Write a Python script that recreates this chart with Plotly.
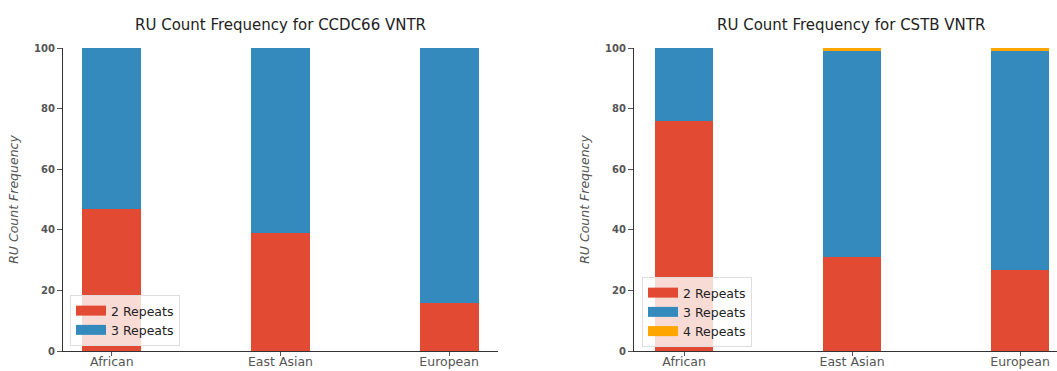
import plotly.graph_objects as go

populations = ["African", "East Asian", "European"]

ccdc66_2 = [47.0, 39.0, 15.9]
ccdc66_3 = [53.0, 61.0, 84.1]

cstb_2 = [75.8, 31.0, 26.8]
cstb_3 = [24.2, 67.9, 72.1]
cstb_4 = [0.0, 1.1, 1.1]

RED = "#E24A33"
BLUE = "#348ABD"
ORANGE = "#FFA500"
FONT = "DejaVu Sans"

W, H = 1057, 371
ML, MR, MT, MB = 63, 0, 48, 20
PW = W - ML - MR

def px(x):
    return (x - ML) / PW

fig = go.Figure()

def add_bars(xa, ya, series, legend):
    for name, vals, col in series:
        fig.add_trace(go.Bar(x=populations, y=vals, name=name, marker_color=col,
                             marker_line_width=0, width=0.35, xaxis=xa, yaxis=ya,
                             showlegend=False, legendgroup=legend + name))
        fig.add_trace(go.Scatter(x=[None], y=[None], mode="lines", name=name,
                                 line=dict(color=col, width=10), xaxis=xa, yaxis=ya,
                                 legend=legend, legendgroup=legend + name, showlegend=True))

add_bars("x", "y", [("2 Repeats", ccdc66_2, RED), ("3 Repeats", ccdc66_3, BLUE)], "legend")
add_bars("x2", "y2", [("2 Repeats", cstb_2, RED), ("3 Repeats", cstb_3, BLUE),
                      ("4 Repeats", cstb_4, ORANGE)], "legend2")

axis_common = dict(showgrid=False, zeroline=False, showline=True, linecolor="#333",
                   linewidth=1.2, ticks="outside", tickcolor="#555",
                   automargin=False)

xtick_font = dict(family=FONT, size=12.5, color="#555")
ytick_font = dict(family=FONT, size=10, color="#555", weight="bold")
ytitle_font = dict(family=FONT, size=12.5, color="#555", style="italic")

xcommon = dict(**axis_common, ticklen=4, ticklabelstandoff=-5, tickfont=xtick_font)
ycommon = dict(**axis_common, ticklen=5, tickfont=ytick_font, range=[0, 100],
               tickvals=[0, 20, 40, 60, 80, 100], domain=[0, 1],
               title=dict(text="RU Count Frequency", font=ytitle_font, standoff=12))

fig.update_layout(
    width=W, height=H,
    margin=dict(l=ML, r=MR, t=MT, b=MB),
    paper_bgcolor="white", plot_bgcolor="white",
    barmode="stack",
    xaxis=dict(domain=[0, px(498)], range=[-0.29, 2.29], **xcommon),
    xaxis2=dict(domain=[px(634), 1], range=[-0.298, 2.22], **xcommon),
    yaxis=dict(anchor="x", **ycommon),
    yaxis2=dict(anchor="x2", **ycommon),
    legend=dict(x=px(70), y=(351 - 346) / 303, xanchor="left", yanchor="bottom",
                bgcolor="rgba(255,255,255,0.8)", bordercolor="#ddd", borderwidth=1,
                font=dict(family=FONT, size=12.5, color="#222"), itemwidth=30,
                tracegroupgap=0),
    legend2=dict(x=px(642), y=(351 - 347) / 303, xanchor="left", yanchor="bottom",
                 bgcolor="rgba(255,255,255,0.8)", bordercolor="#ddd", borderwidth=1,
                 font=dict(family=FONT, size=12.5, color="#222"), itemwidth=30,
                 tracegroupgap=0),
    annotations=[
        dict(text="RU Count Frequency for CCDC66 VNTR", x=px(280.5), y=1, xref="paper",
             yref="paper", xanchor="center", yanchor="bottom", yshift=12, showarrow=False,
             font=dict(family=FONT, size=15, color="#222")),
        dict(text="RU Count Frequency for CSTB VNTR", x=px(851), y=1, xref="paper",
             yref="paper", xanchor="center", yanchor="bottom", yshift=12, showarrow=False,
             font=dict(family=FONT, size=15, color="#222")),
    ],
)

fig.write_html("out.html")
